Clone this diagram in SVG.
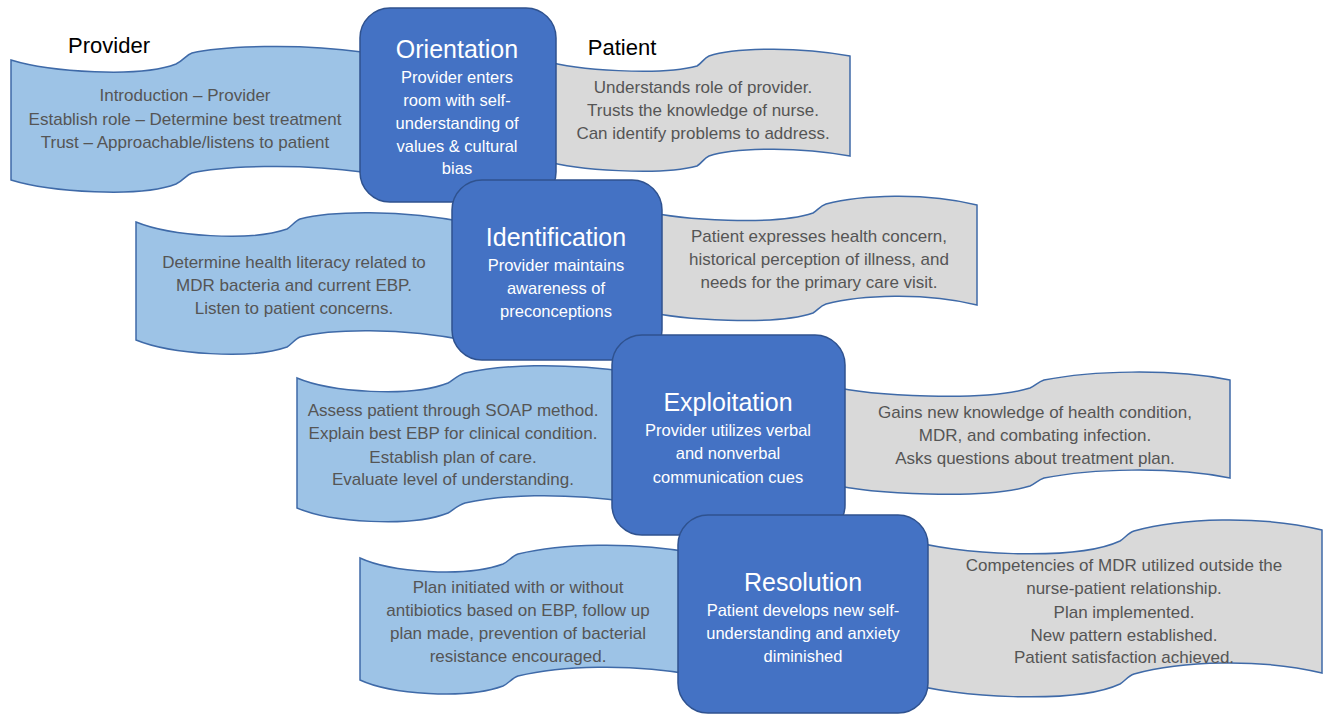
<svg xmlns="http://www.w3.org/2000/svg" width="1325" height="716" viewBox="0 0 1325 716">
  <style>
    .provider { fill: #9dc3e6; stroke: #3f6aa8; stroke-width: 1.5; }
    .patient { fill: #d9d9d9; stroke: #3f6aa8; stroke-width: 1.5; }
    .phase { fill: #4472c4; stroke: #2f528f; stroke-width: 1.5; }
    .head { font-family: "Liberation Sans", Arial, sans-serif; font-size: 22px; fill: #000; text-anchor: middle; }
    .title { font-family: "Liberation Sans", Arial, sans-serif; font-size: 25px; fill: #fff; text-anchor: middle; }
    .sub { font-family: "Liberation Sans", Arial, sans-serif; font-size: 16.5px; fill: #fff; text-anchor: middle; }
    .body { font-family: "Liberation Sans", Arial, sans-serif; font-size: 17px; fill: #555; text-anchor: middle; }
  </style>

  <!-- column headings -->
  <text class="head" x="109" y="53">Provider</text>
  <text class="head" x="622" y="55">Patient</text>

  <!-- Orientation stage: wave banners (sag, short step, arch) -->
  <g id="orientation-provider">
    <path class="provider" d="M11,60 C50,72 140,78 176,64 C184,60 186,55 192,53 C220,46 300,43 362,52 L362,172 C300,163 220,166 192,173 C186,175 184,180 176,184 C140,198 50,192 11,180 Z"/>
    <text class="body" x="185" y="101">Introduction – Provider</text>
    <text class="body" x="185" y="124.5">Establish role – Determine best treatment</text>
    <text class="body" x="185" y="148">Trust – Approachable/listens to patient</text>
  </g>
  <g id="orientation-patient">
    <path class="patient" d="M545,61 C575,70 660,76 697,66 C702,63 704,58 709,56 C730,49 790,45 850,56 L850,156 C790,145 730,149 709,156 C704,158 702,163 697,166 C660,176 575,170 545,161 Z"/>
    <text class="body" x="703" y="93">Understands role of provider.</text>
    <text class="body" x="703" y="116">Trusts the knowledge of nurse.</text>
    <text class="body" x="703" y="139">Can identify problems to address.</text>
  </g>

  <!-- Identification stage -->
  <g id="identification-provider">
    <path class="provider" d="M136,222 C170,236 250,242 287,229 C292,226 295,221 300,219 C330,211 400,209 470,223 L470,341 C400,327 330,329 300,337 C295,339 292,344 287,347 C250,360 170,354 136,340 Z"/>
    <text class="body" x="294" y="268">Determine health literacy related to</text>
    <text class="body" x="294" y="291">MDR bacteria and current EBP.</text>
    <text class="body" x="294" y="314">Listen to patient concerns.</text>
  </g>
  <g id="identification-patient">
    <path class="patient" d="M645,211 C680,220 775,226 813,213 C818,210 820,206 826,204 C860,195 925,192 977,205 L977,305 C925,292 860,295 826,304 C820,306 818,310 813,313 C775,326 680,320 645,311 Z"/>
    <text class="body" x="819" y="242">Patient expresses health concern,</text>
    <text class="body" x="819" y="265">historical perception of illness, and</text>
    <text class="body" x="819" y="288">needs for the primary care visit.</text>
  </g>

  <!-- Exploitation stage -->
  <g id="exploitation-provider">
    <path class="provider" d="M297,378 C330,392 410,398 448,383 C453,380 458,375 465,373 C500,365 560,362 630,372 L630,502 C560,492 500,495 465,503 C458,505 453,510 448,513 C410,528 330,522 297,508 Z"/>
    <text class="body" x="453" y="416">Assess patient through SOAP method.</text>
    <text class="body" x="453" y="439">Explain best EBP for clinical condition.</text>
    <text class="body" x="453" y="463">Establish plan of care.</text>
    <text class="body" x="453" y="485">Evaluate level of understanding.</text>
  </g>
  <g id="exploitation-patient">
    <path class="patient" d="M830,386 C870,396 985,402 1030,388 C1035,386 1038,382 1044,380 C1090,371 1170,368 1230,380 L1230,478 C1170,466 1090,469 1044,478 C1038,480 1035,484 1030,486 C985,500 870,494 830,484 Z"/>
    <text class="body" x="1035" y="418">Gains new knowledge of health condition,</text>
    <text class="body" x="1035" y="441">MDR, and combating infection.</text>
    <text class="body" x="1035" y="464">Asks questions about treatment plan.</text>
  </g>

  <!-- Resolution stage -->
  <g id="resolution-provider">
    <path class="provider" d="M360,558 C390,572 465,578 503,564 C508,562 512,556 518,554 C560,544 630,541 695,553 L695,675 C630,663 560,666 518,676 C512,678 508,684 503,686 C465,700 390,694 360,680 Z"/>
    <text class="body" x="518" y="593">Plan initiated with or without</text>
    <text class="body" x="518" y="616">antibiotics based on EBP, follow up</text>
    <text class="body" x="518" y="639">plan made, prevention of bacterial</text>
    <text class="body" x="518" y="662">resistance encouraged.</text>
  </g>
  <g id="resolution-patient">
    <path class="patient" d="M910,540 C950,554 1075,562 1120,541 C1125,538 1128,533 1134,531 C1180,518 1260,515 1322,530 L1322,673 C1260,658 1180,661 1134,674 C1128,676 1125,681 1120,684 C1075,705 950,697 910,683 Z"/>
    <text class="body" x="1124" y="571">Competencies of MDR utilized outside the</text>
    <text class="body" x="1124" y="594">nurse-patient relationship.</text>
    <text class="body" x="1124" y="618">Plan implemented.</text>
    <text class="body" x="1124" y="641">New pattern established.</text>
    <text class="body" x="1124" y="663">Patient satisfaction achieved.</text>
  </g>

  <!-- phase boxes, each later one overlapping the previous -->
  <g id="orientation">
    <rect class="phase" x="360" y="8" width="196" height="194" rx="30"/>
    <text class="title" x="457" y="58">Orientation</text>
    <text class="sub" x="457" y="83">Provider enters</text>
    <text class="sub" x="457" y="106">room with self-</text>
    <text class="sub" x="457" y="129">understanding of</text>
    <text class="sub" x="457" y="152">values &amp; cultural</text>
    <text class="sub" x="457" y="174">bias</text>
  </g>
  <g id="identification">
    <rect class="phase" x="452" y="180" width="210" height="180" rx="30"/>
    <text class="title" x="556" y="246">Identification</text>
    <text class="sub" x="556" y="271">Provider maintains</text>
    <text class="sub" x="556" y="294">awareness of</text>
    <text class="sub" x="556" y="317">preconceptions</text>
  </g>
  <g id="exploitation">
    <rect class="phase" x="612" y="335" width="233" height="200" rx="30"/>
    <text class="title" x="728" y="411">Exploitation</text>
    <text class="sub" x="728" y="436">Provider utilizes verbal</text>
    <text class="sub" x="728" y="459">and nonverbal</text>
    <text class="sub" x="728" y="483">communication cues</text>
  </g>
  <g id="resolution">
    <rect class="phase" x="678" y="515" width="250" height="198" rx="30"/>
    <text class="title" x="803" y="591">Resolution</text>
    <text class="sub" x="803" y="616">Patient develops new self-</text>
    <text class="sub" x="803" y="639">understanding and anxiety</text>
    <text class="sub" x="803" y="662">diminished</text>
  </g>

  <!-- no arrows: the stages are linked only by overlap -->
  <g id="connectors"/>
</svg>
